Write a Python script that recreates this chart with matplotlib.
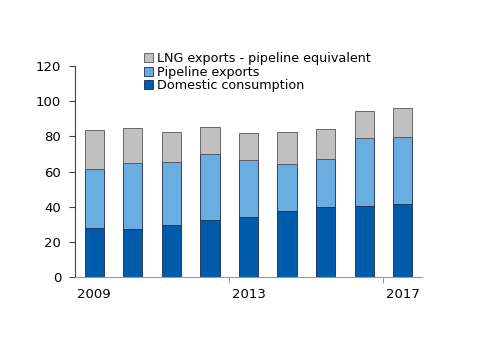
import matplotlib
matplotlib.use('Agg')
import matplotlib.pyplot as plt
import numpy as np

years = ['2009', '2010', '2011', '2012', '2013', '2014', '2015', '2016', '2017']
domestic = [27.7, 27.1, 29.4, 32.4, 34.0, 37.4, 40.0, 40.2, 41.7]
pipeline_top = [61.3, 64.8, 65.2, 70.0, 66.4, 64.5, 67.0, 78.9, 79.5]
total_top = [83.6, 84.8, 82.5, 85.1, 81.7, 82.3, 84.0, 94.6, 96.0]

pipeline = [p - d for p, d in zip(pipeline_top, domestic)]
lng = [t - p for t, p in zip(total_top, pipeline_top)]

plt.rcParams['font.family'] = ['DejaVu Sans']

fig = plt.figure(figsize=(5, 3.54), dpi=100)
ax = fig.add_axes([0.15, 0.2175, 0.694, 0.596])

x = np.arange(len(years))
w = 0.5
b1 = ax.bar(x, domestic, w, color='#005BAA', edgecolor='#1a2a50', linewidth=0.6,
            label='Domestic consumption')
b2 = ax.bar(x, pipeline, w, bottom=domestic, color='#6AADE0', edgecolor='#1a2a50',
            linewidth=0.6, label='Pipeline exports')
b3 = ax.bar(x, lng, w, bottom=pipeline_top, color='#C0C0C0', edgecolor='#555555',
            linewidth=0.6, label='LNG exports - pipeline equivalent')

ax.set_xlim(-0.5, len(years) - 0.5)
ax.set_ylim(0, 120)
ax.set_yticks(range(0, 121, 20))
ax.set_xticks([0, 4, 8])
ax.set_xticklabels(['2009', '2013', '2017'])
ax.set_xticks([3.5, 7.5], minor=True)
ax.tick_params(axis='x', which='major', length=0, pad=8, labelsize=9.5)
ax.tick_params(axis='x', which='minor', length=4, color='#888888', direction='out')
ax.tick_params(axis='y', length=4, color='#444444', labelsize=9.5, pad=6)

for s in ['top', 'right']:
    ax.spines[s].set_visible(False)
ax.spines['left'].set_color('#444444')
ax.spines['bottom'].set_color('#999999')

fig.legend(handles=[b3, b2, b1], loc='upper left', bbox_to_anchor=(0.275, 0.87),
           frameon=False, fontsize=9.2, handlelength=0.7, handleheight=0.7,
           handletextpad=0.3, labelspacing=0.02, borderpad=0)

fig.savefig('out.png', dpi=100)
